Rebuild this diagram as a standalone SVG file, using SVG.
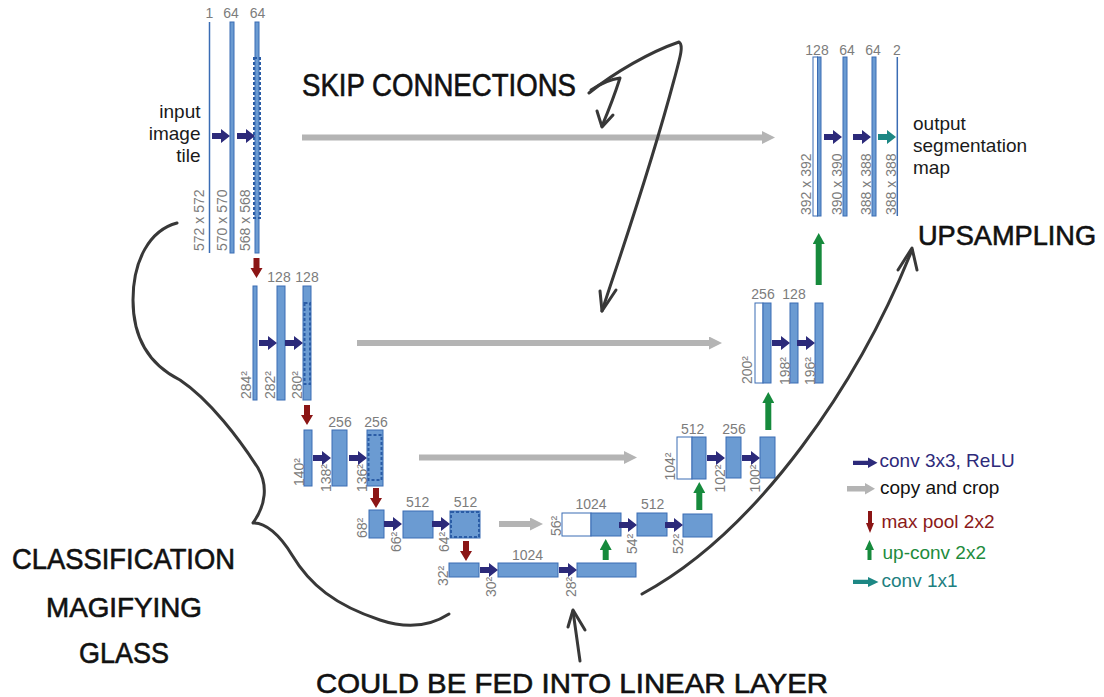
<svg xmlns="http://www.w3.org/2000/svg" xmlns:xlink="http://www.w3.org/1999/xlink" width="1104" height="697" viewBox="0 0 1104 697">
<defs>
<style>
.fm{fill:#6b9bd2;stroke:#3a6cb4;stroke-width:1}
.wh{fill:#fff;stroke:#3a6cb4;stroke-width:1}
.ln{stroke:#3a6cb4;stroke-width:1.5}
.dash{fill:none;stroke:#2a5ca6;stroke-width:2;stroke-dasharray:3 2}
.n{font-family:"Liberation Sans",Arial,sans-serif;font-size:14px;fill:#7c7c7c}
.c{text-anchor:middle}
.lbl{font-family:"Liberation Sans",Arial,sans-serif;font-size:19px;fill:#1a1a1a}
.hw{font-family:"Liberation Sans",Arial,sans-serif;fill:#111;stroke:#111;stroke-width:0.6}
.ink{fill:none;stroke:#383838;stroke-width:3;stroke-linecap:round;stroke-linejoin:round}
.cp{stroke:#b4b4b4;stroke-width:6;fill:none}
.up{stroke:#168a3c;stroke-width:6;fill:none}
.navy{fill:#2c2a7a}
.red{fill:#8b1515}
</style>
<path id="cv" d="M0,-3 H9 V-7 L18,0 L9,7 V3 H0 Z"/>
<path id="mp" d="M-3,0 V10 H-6 L0,20 L6,10 H3 V0 Z"/>
<marker id="gh" markerUnits="userSpaceOnUse" markerWidth="13" markerHeight="13" viewBox="0 0 13 13" refX="0" refY="6.5" orient="auto"><path d="M0,0 L13,6.5 L0,13 Z" fill="#b4b4b4"/></marker>
<marker id="uh" markerUnits="userSpaceOnUse" markerWidth="11" markerHeight="12" viewBox="0 0 11 12" refX="0" refY="6" orient="auto"><path d="M0,0 L11,6 L0,12 Z" fill="#168a3c"/></marker>
</defs>
<rect width="1104" height="697" fill="#fff"/>

<!-- contracting path -->
<g id="l1a"><line class="ln" x1="209.5" y1="22" x2="209.5" y2="253"/><text class="n c" x="209.5" y="18">1</text><text class="n" transform="translate(204,251) rotate(-90)">572 x 572</text></g>
<g id="l1b"><rect class="fm" x="230" y="22" width="4" height="231"/><text class="n c" x="231" y="18">64</text><text class="n" transform="translate(227,251) rotate(-90)">570 x 570</text></g>
<g id="l1c"><rect class="fm" x="255" y="22" width="4" height="231"/><rect class="dash" x="254" y="58" width="6" height="160"/><text class="n c" x="257.5" y="18">64</text><text class="n" transform="translate(250,251) rotate(-90)">568 x 568</text></g>
<g id="input-label"><text class="lbl" text-anchor="end" x="200.5" y="118">input</text><text class="lbl" text-anchor="end" x="200.5" y="140">image</text><text class="lbl" text-anchor="end" x="200.5" y="162">tile</text></g>

<g id="l2a"><rect class="fm" x="253" y="286" width="4" height="114"/><text class="n" transform="translate(251,399) rotate(-90)">284²</text></g>
<g id="l2b"><rect class="fm" x="277" y="286" width="8" height="114"/><text class="n c" x="279" y="282">128</text><text class="n" transform="translate(275,399) rotate(-90)">282²</text></g>
<g id="l2c"><rect class="fm" x="303" y="286" width="8" height="114"/><rect class="dash" x="304.5" y="303" width="5.5" height="81"/><text class="n c" x="307" y="282">128</text><text class="n" transform="translate(302,399) rotate(-90)">280²</text></g>

<g id="l3a"><rect class="fm" x="304" y="430" width="8" height="56"/><text class="n" transform="translate(304,486) rotate(-90)">140²</text></g>
<g id="l3b"><rect class="fm" x="332" y="430" width="15" height="56"/><text class="n c" x="340" y="427">256</text><text class="n" transform="translate(331,492) rotate(-90)">138²</text></g>
<g id="l3c"><rect class="fm" x="367" y="430" width="16" height="56"/><rect class="dash" x="368.5" y="435" width="13" height="45"/><text class="n c" x="376" y="427">256</text><text class="n" transform="translate(367,492) rotate(-90)">136²</text></g>

<g id="l4a"><rect class="fm" x="369" y="510" width="15" height="28"/><text class="n" transform="translate(367,538) rotate(-90)">68²</text></g>
<g id="l4b"><rect class="fm" x="403" y="511" width="30" height="27"/><text class="n c" x="417.7" y="507">512</text><text class="n" transform="translate(401,552) rotate(-90)">66²</text></g>
<g id="l4c"><rect class="fm" x="450" y="511" width="30" height="27"/><rect class="dash" x="451" y="512" width="28" height="25"/><text class="n c" x="465.5" y="507">512</text><text class="n" transform="translate(449,552) rotate(-90)">64²</text></g>

<g id="l5a"><rect class="fm" x="449" y="563" width="30" height="14"/><text class="n" transform="translate(448,586) rotate(-90)">32²</text></g>
<g id="l5b"><rect class="fm" x="498" y="563" width="60" height="14"/><text class="n c" x="527.5" y="560">1024</text><text class="n" transform="translate(496,597) rotate(-90)">30²</text></g>
<g id="l5c"><rect class="fm" x="577" y="563" width="59" height="14"/><text class="n" transform="translate(575.5,597) rotate(-90)">28²</text></g>

<!-- expanding path -->
<g id="r4a"><rect class="wh" x="562" y="513" width="29" height="23"/><rect class="fm" x="591" y="513" width="30" height="23"/><text class="n c" x="591" y="509">1024</text><text class="n" transform="translate(560.5,536) rotate(-90)">56²</text></g>
<g id="r4b"><rect class="fm" x="637" y="513" width="30" height="23"/><text class="n c" x="652.7" y="509">512</text><text class="n" transform="translate(637,554) rotate(-90)">54²</text></g>
<g id="r4c"><rect class="fm" x="683" y="514" width="29" height="23"/><text class="n" transform="translate(683,554) rotate(-90)">52²</text></g>

<g id="r3a"><rect class="wh" x="677" y="437" width="15" height="42"/><rect class="fm" x="692" y="437" width="14" height="42"/><text class="n c" x="692.7" y="433.5">512</text><text class="n" transform="translate(675,480.5) rotate(-90)">104²</text></g>
<g id="r3b"><rect class="fm" x="726" y="437" width="15" height="41"/><text class="n c" x="734" y="433.5">256</text><text class="n" transform="translate(725,492.5) rotate(-90)">102²</text></g>
<g id="r3c"><rect class="fm" x="760" y="437" width="15" height="41"/><text class="n" transform="translate(760,492.5) rotate(-90)">100²</text></g>

<g id="r2a"><rect class="wh" x="755" y="303" width="8" height="80"/><rect class="fm" x="763" y="303" width="8" height="80"/><text class="n c" x="763" y="299">256</text><text class="n" transform="translate(752,384) rotate(-90)">200²</text></g>
<g id="r2b"><rect class="fm" x="790" y="303" width="8" height="80"/><text class="n c" x="794" y="299">128</text><text class="n" transform="translate(790,385) rotate(-90)">198²</text></g>
<g id="r2c"><rect class="fm" x="815" y="303" width="8" height="80"/><text class="n" transform="translate(815,385) rotate(-90)">196²</text></g>

<g id="r1a"><rect class="wh" x="813" y="57" width="4.5" height="159"/><rect class="fm" x="817.5" y="57" width="3.5" height="159"/><text class="n c" x="817" y="55">128</text><text class="n" transform="translate(811,215) rotate(-90)">392 x 392</text></g>
<g id="r1b"><rect class="fm" x="843" y="57" width="4" height="159"/><text class="n c" x="847" y="55">64</text><text class="n" transform="translate(842,215) rotate(-90)">390 x 390</text></g>
<g id="r1c"><rect class="fm" x="872" y="57" width="4" height="159"/><text class="n c" x="873" y="55">64</text><text class="n" transform="translate(871,215) rotate(-90)">388 x 388</text></g>
<g id="r1d"><line class="ln" x1="897.3" y1="57" x2="897.3" y2="216"/><text class="n c" x="897" y="55">2</text><text class="n" transform="translate(896,215) rotate(-90)">388 x 388</text></g>
<g id="output-label"><text class="lbl" x="913" y="130">output</text><text class="lbl" x="913" y="152">segmentation</text><text class="lbl" x="913" y="173.5">map</text></g>

<!-- connectors -->
<g id="connectors">
<g class="navy">
<use href="#cv" x="212" y="136"/><use href="#cv" x="237" y="136"/>
<use href="#cv" x="259" y="343"/><use href="#cv" x="285" y="343"/>
<use href="#cv" x="313" y="458"/><use href="#cv" x="349" y="458"/>
<use href="#cv" x="384" y="524"/><use href="#cv" x="432" y="524"/>
<use href="#cv" x="480" y="570"/><use href="#cv" x="559" y="570"/>
<use href="#cv" x="619" y="525"/><use href="#cv" x="665" y="525"/>
<use href="#cv" x="707" y="458"/><use href="#cv" x="742" y="458"/>
<use href="#cv" x="772" y="343"/><use href="#cv" x="797" y="343"/>
<use href="#cv" x="824" y="137"/><use href="#cv" x="853" y="137"/>
</g>
<use href="#cv" x="878" y="137" fill="#1d8784"/>
<g class="red">
<use href="#mp" x="256.5" y="258"/><use href="#mp" x="307" y="405"/><use href="#mp" x="376" y="488"/><use href="#mp" x="466" y="541"/>
</g>
<line class="cp" x1="302" y1="137.5" x2="762" y2="137.5" marker-end="url(#gh)"/>
<line class="cp" x1="357" y1="343" x2="709" y2="343" marker-end="url(#gh)"/>
<line class="cp" x1="419" y1="457.5" x2="624" y2="457.5" marker-end="url(#gh)"/>
<line class="cp" x1="499" y1="524" x2="530" y2="524" marker-end="url(#gh)"/>
<line class="up" x1="605.7" y1="560" x2="605.7" y2="550" marker-end="url(#uh)"/>
<line class="up" x1="699.3" y1="510" x2="699.3" y2="493" marker-end="url(#uh)"/>
<line class="up" x1="768.3" y1="430" x2="768.3" y2="403" marker-end="url(#uh)"/>
<line class="up" x1="818.7" y1="285" x2="818.7" y2="244" marker-end="url(#uh)"/>
</g>

<!-- legend -->
<g id="legend" font-family="'Liberation Sans',Arial,sans-serif" font-size="19">
<path d="M853,460.8 H868 V457.5 L877.5,462.8 L868,468 V465 H853 Z" fill="#2c2a7a"/>
<text x="879.5" y="467" fill="#2e2a7a">conv 3x3, ReLU</text>
<path d="M847,486 H865 V483 L875,488.7 L865,494.5 V491.5 H847 Z" fill="#b4b4b4"/>
<text x="880" y="493.5" fill="#111">copy and crop</text>
<path d="M868,511 V523 H866 L870,533 L874,523 H872 V511 Z" fill="#8b1515"/>
<text x="881.5" y="527.5" fill="#8b1a1a">max pool 2x2</text>
<path d="M867.5,560 V550 H865 L869.5,540 L874,550 H871.5 V560 Z" fill="#168a3c"/>
<text x="882.5" y="558.5" fill="#1e8b3c">up-conv 2x2</text>
<path d="M853,579.7 H868 V577 L878.5,582 L868,587 V584 H853 Z" fill="#1d8784"/>
<text x="881.5" y="587" fill="#1d8080">conv 1x1</text>
</g>

<!-- handwritten annotations -->
<g id="annotations">
<text class="hw" x="302" y="96" font-size="31" textLength="274" lengthAdjust="spacingAndGlyphs">SKIP CONNECTIONS</text>
<path class="ink" d="M591,90 Q606,80 620,78 Q613,100 602,126"/>
<path class="ink" d="M597,111 L602,127 L613,115"/>
<path class="ink" d="M589,93 C615,72 650,52 679,42 C684,45 680,58 674,80 C650,170 622,250 602,311"/>
<path class="ink" d="M600,291 L602,311 L616,290"/>
<text class="hw" x="12" y="569" font-size="29" textLength="223" lengthAdjust="spacingAndGlyphs">CLASSIFICATION</text>
<text class="hw" x="46" y="617" font-size="28" textLength="156" lengthAdjust="spacingAndGlyphs">MAGIFYING</text>
<text class="hw" x="79" y="663" font-size="30" textLength="90" lengthAdjust="spacingAndGlyphs">GLASS</text>
<path class="ink" d="M177,223 C150,230 133,260 133,300 C133,340 150,365 180,380 C210,400 240,440 258,468 C268,485 266,505 253,523 C265,522 280,535 292,555 C310,585 335,605 380,620 C410,630 432,625 449,614"/>
<text class="hw" x="316" y="693" font-size="28" textLength="512" lengthAdjust="spacingAndGlyphs">COULD BE FED INTO LINEAR LAYER</text>
<path class="ink" d="M580,661 L573,611"/>
<path class="ink" d="M568,627 L573,610 L585,630"/>
<text class="hw" x="918" y="245" font-size="27" textLength="178" lengthAdjust="spacingAndGlyphs">UPSAMPLING</text>
<path class="ink" d="M642,594 C760,530 860,380 912,250"/>
<path class="ink" d="M898,270 L912,248 L917,270"/>
</g>
</svg>
